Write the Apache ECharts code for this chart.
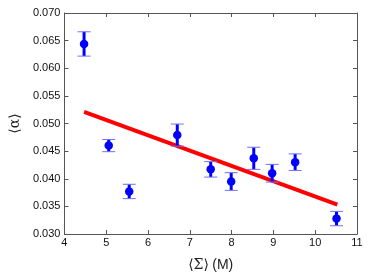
<!DOCTYPE html>
<html><head><meta charset="utf-8">
<script src="https://cdn.jsdelivr.net/npm/echarts@6/dist/echarts.min.js"></script>
<style>html,body{margin:0;padding:0;background:#fff}#c{width:374px;height:277px}</style>
</head><body><div id="c"></div>
<script>
const xVals = [4.47, 5.06, 5.55, 6.70, 7.50, 7.99, 8.53, 8.97, 9.52, 10.51];
const yVals = [0.0644, 0.0460, 0.0377, 0.0479, 0.0417, 0.0395, 0.0437, 0.0410, 0.0430, 0.0328];
const yErr  = [0.0022, 0.0011, 0.0013, 0.0020, 0.0014, 0.0016, 0.0020, 0.0016, 0.0015, 0.0013];
const fitX = [4.47, 10.53];
const fitY = [0.0521, 0.0353];
const xTicks = [4, 5, 6, 7, 8, 9, 10, 11];
const yTicks = [0.030, 0.035, 0.040, 0.045, 0.050, 0.055, 0.060, 0.065, 0.070];

const chart = echarts.init(document.getElementById('c'));
const lbl = {fontFamily: 'Liberation Sans', fontSize: 11, color: '#111'};
const axLine = {show: true, lineStyle: {color: '#555', width: 1}};
const tick = {show: true, inside: true, length: 4, lineStyle: {color: '#555'}};
const errData = xVals.map((x, i) => [x, yVals[i] - yErr[i], yVals[i] + yErr[i]]);
chart.setOption({
  animation: false,
  grid: {left: 62, top: 13, right: 17, bottom: 42},
  xAxis: [
    {type: 'value', min: xTicks[0], max: xTicks[xTicks.length - 1], interval: 1, axisLine: axLine, axisTick: tick,
     splitLine: {show: false}, axisLabel: Object.assign({margin: 3, formatter: v => String(v)}, lbl),
     name: '{s|⟨Σ⟩} {n|(M)}', nameLocation: 'middle', nameGap: 24,
     nameTextStyle: {rich: {
       s: {fontFamily: 'DejaVu Serif', fontSize: 14, color: '#222'},
       n: {fontFamily: 'Liberation Sans', fontSize: 14, color: '#222'}}}},
    {type: 'value', position: 'top', min: xTicks[0], max: xTicks[xTicks.length - 1], interval: 1, axisLine: axLine, axisTick: tick,
     splitLine: {show: false}, axisLabel: {show: false}}
  ],
  yAxis: [
    {type: 'value', min: yTicks[0], max: yTicks[yTicks.length - 1], interval: 0.005, axisLine: axLine, axisTick: tick,
     splitLine: {show: false}, axisLabel: Object.assign({margin: 4, formatter: v => v.toFixed(3)}, lbl),
     name: '⟨α⟩', nameLocation: 'middle', nameGap: 33, nameRotate: 90,
     nameTextStyle: {fontFamily: 'DejaVu Serif', fontSize: 14, color: '#222'}},
    {type: 'value', position: 'right', min: yTicks[0], max: yTicks[yTicks.length - 1], interval: 0.005, axisLine: axLine, axisTick: tick,
     splitLine: {show: false}, axisLabel: {show: false}}
  ],
  series: [
    {type: 'line', data: fitX.map((x, i) => [x, fitY[i]]), symbol: 'none',
     lineStyle: {color: '#ff0000', width: 4}, z: 3},
    {type: 'custom', data: errData, z: 4,
     renderItem: function (params, api) {
       const x = api.value(0);
       const lo = api.coord([x, api.value(1)]);
       const hi = api.coord([x, api.value(2)]);
       const hw = 6.5;
       return {type: 'group', children: [
         {type: 'line', shape: {x1: lo[0], y1: lo[1], x2: hi[0], y2: hi[1]}, style: {stroke: '#0000ff', lineWidth: 3}},
         {type: 'line', shape: {x1: hi[0] - hw, y1: hi[1], x2: hi[0] + hw, y2: hi[1]}, style: {stroke: '#6f6fff', lineWidth: 1}},
         {type: 'line', shape: {x1: lo[0] - hw, y1: lo[1], x2: lo[0] + hw, y2: lo[1]}, style: {stroke: '#6f6fff', lineWidth: 1}}
       ]};
     }},
    {type: 'scatter', data: xVals.map((x, i) => [x, yVals[i]]), symbol: 'circle', symbolSize: 8.5,
     itemStyle: {color: '#0000ff', opacity: 1}, z: 5}
  ]
});
</script></body></html>
